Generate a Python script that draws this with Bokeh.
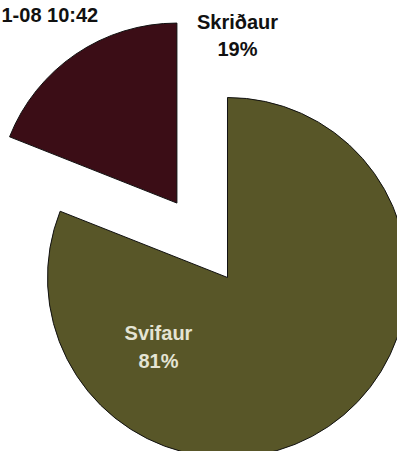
import math
from bokeh.plotting import figure
from bokeh.models import Range1d, ColumnDataSource
from bokeh.core.properties import value
from bokeh.embed import file_html
from bokeh.resources import INLINE

# ---- data ----
categories = ["Svifaur", "Skriðaur"]
shares = [81, 19]
colors = ["#585628", "#3b0d16"]
label_colors = ["#e4e4d4", "#111111"]
title_text = "1-08 10:42"

# ---- geometry (pixel space, y pointing down -> negated) ----
W, H = 397, 451
cx, cy = 227, 277
R = 180
explode = [0, 90]

p = figure(width=W, height=H, output_backend="svg", toolbar_location=None,
           x_range=Range1d(0, W), y_range=Range1d(-H, 0),
           min_border=0, background_fill_color="white")
p.axis.visible = False
p.grid.visible = False
p.outline_line_color = None

total = sum(shares)
start = 90.0
xs, ys, sa, ea = [], [], [], []
for v, ex in zip(shares, explode):
    sweep = 360.0 * v / total
    end = start
    st = start - sweep
    mid = math.radians((st + end) / 2)
    xs.append(cx + ex * math.cos(mid))
    ys.append(-cy + ex * math.sin(mid))
    sa.append(math.radians(st))
    ea.append(math.radians(end))
    start = st

src = ColumnDataSource(dict(x=xs, y=ys, start=sa, end=ea, color=colors, cat=categories))
p.wedge(x="x", y="y", radius=R, start_angle="start", end_angle="end",
        fill_color="color", line_color="#111111", line_width=1, source=src)

# labels
label_pos = [(158, 332, 360), (237, 21, 48)]
for cat, v, col, (lx, ly1, ly2) in zip(categories, shares, label_colors, label_pos):
    p.text(x=[lx], y=[-ly1], text=[cat], text_align="center", text_baseline="middle",
           text_font=value("Liberation Sans"), text_font_style="bold",
           text_font_size="20px", text_color=col)
    p.text(x=[lx], y=[-ly2], text=[f"{v}%"], text_align="center", text_baseline="middle",
           text_font=value("Liberation Sans"), text_font_style="bold",
           text_font_size="20px", text_color=col)

p.text(x=[1], y=[-14], text=[title_text], text_align="left", text_baseline="middle",
       text_font=value("Liberation Sans"), text_font_style="bold",
       text_font_size="20px", text_color="#111111")

open("out.html", "w").write(file_html(p, INLINE))
